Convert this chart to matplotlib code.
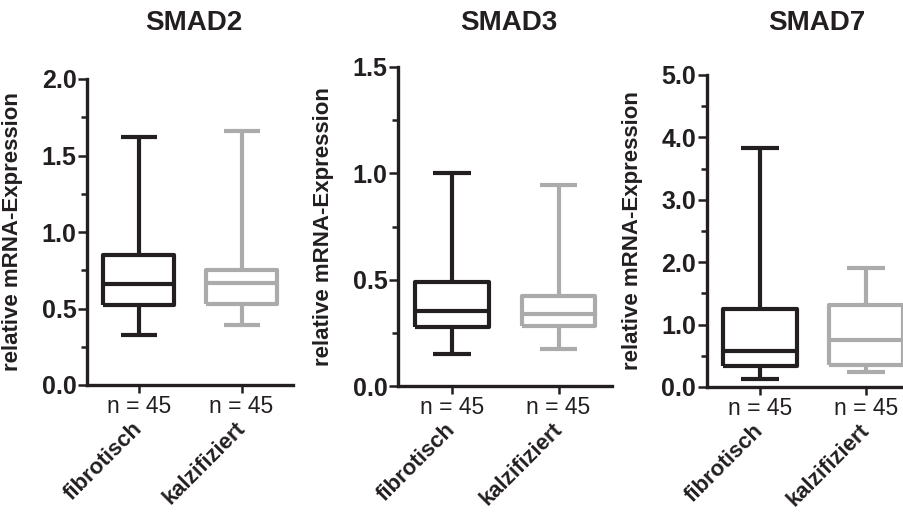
import matplotlib
matplotlib.use("Agg")
import matplotlib.pyplot as plt
from matplotlib.ticker import MultipleLocator, FormatStrFormatter

plt.rcParams['font.family'] = ['Liberation Sans', 'DejaVu Sans']

# ---- data ----
genes = ["SMAD2", "SMAD3", "SMAD7"]
categories = ["fibrotisch", "kalzifiziert"]
n_labels = ["n = 45", "n = 45"]

smad2_whishi = [1.62, 1.66]
smad2_q3 = [0.85, 0.75]
smad2_med = [0.66, 0.665]
smad2_q1 = [0.52, 0.53]
smad2_whislo = [0.325, 0.39]

smad3_whishi = [1.00, 0.946]
smad3_q3 = [0.488, 0.425]
smad3_med = [0.355, 0.337]
smad3_q1 = [0.276, 0.284]
smad3_whislo = [0.151, 0.174]

smad7_whishi = [3.83, 1.90]
smad7_q3 = [1.245, 1.32]
smad7_med = [0.572, 0.76]
smad7_q1 = [0.337, 0.348]
smad7_whislo = [0.134, 0.241]

y_max = [2.0, 1.5, 5.0]
y_major = [0.5, 0.5, 1.0]
y_minor = [0.25, 0.25, 0.5]

series = [
    (smad2_whislo, smad2_q1, smad2_med, smad2_q3, smad2_whishi),
    (smad3_whislo, smad3_q1, smad3_med, smad3_q3, smad3_whishi),
    (smad7_whislo, smad7_q1, smad7_med, smad7_q3, smad7_whishi),
]

# ---- style ----
BLACK = "#231f20"
GRAY = "#ababab"
colors = [BLACK, GRAY]
W, H = 904, 515

fig = plt.figure(figsize=(W / 100, H / 100), dpi=100)

# axes boxes in pixels: (left, right, top, bottom)
boxes_px = [(87.5, 293, 79, 385), (398.5, 612, 67, 386), (707, 919, 75, 387)]

for k, (l, r, t, b) in enumerate(boxes_px):
    ax = fig.add_axes([l / W, (H - b) / H, (r - l) / W, (b - t) / H])
    whislo, q1, med, q3, whishi = series[k]
    for i in range(2):
        st = dict(med=med[i], q1=q1[i], q3=q3[i], whislo=whislo[i],
                  whishi=whishi[i], label=categories[i])
        c = colors[i]
        lp = dict(color=c, linewidth=3.0, solid_capstyle='butt')
        ax.bxp([st], positions=[i], widths=0.69, capwidths=[0.35],
               showfliers=False, boxprops=lp, whiskerprops=lp,
               capprops=lp, medianprops=lp, manage_ticks=False)
    ax.set_xlim(-0.5, 1.5)
    ax.set_ylim(0, y_max[k])
    ax.set_xticks([0, 1])
    ax.set_xticklabels(n_labels, fontsize=16.5, color=BLACK)
    ax.yaxis.set_major_locator(MultipleLocator(y_major[k]))
    ax.yaxis.set_minor_locator(MultipleLocator(y_minor[k]))
    ax.yaxis.set_major_formatter(FormatStrFormatter('%.1f'))
    for lab in ax.get_yticklabels():
        lab.set_fontweight('bold')
    ax.tick_params(axis='y', which='major', labelsize=18, length=6.5,
                   width=1.8, pad=1.5, colors=BLACK)
    ax.tick_params(axis='y', which='minor', length=4.3, width=1.8, colors=BLACK)
    ax.tick_params(axis='x', which='major', length=6, width=1.8, pad=1.5,
                   colors=BLACK)
    for s in ['top', 'right']:
        ax.spines[s].set_visible(False)
    for s in ['left', 'bottom']:
        ax.spines[s].set_linewidth(2.4)
        ax.spines[s].set_color(BLACK)
    ax.set_ylabel("relative mRNA-Expression", fontsize=16, fontweight='bold',
                  color=BLACK)
    ax.yaxis.set_label_coords(-64 / (r - l), 0.5)
    for i, cat in enumerate(categories):
        ax.annotate(cat, xy=(i, 0), xycoords=('data', 'axes fraction'),
                    xytext=(-5, -24), textcoords='offset points',
                    rotation=45, ha='right', va='top', rotation_mode='anchor',
                    fontsize=16, fontweight='bold',
                    color=BLACK, annotation_clip=False)
    cx = (l + min(r, 918)) / 2 + 4
    fig.text(cx / W, 1 - 23 / H, genes[k], ha='center', va='center',
             fontsize=20, fontweight='bold', color=BLACK)

fig.savefig("out.png", dpi=100)
